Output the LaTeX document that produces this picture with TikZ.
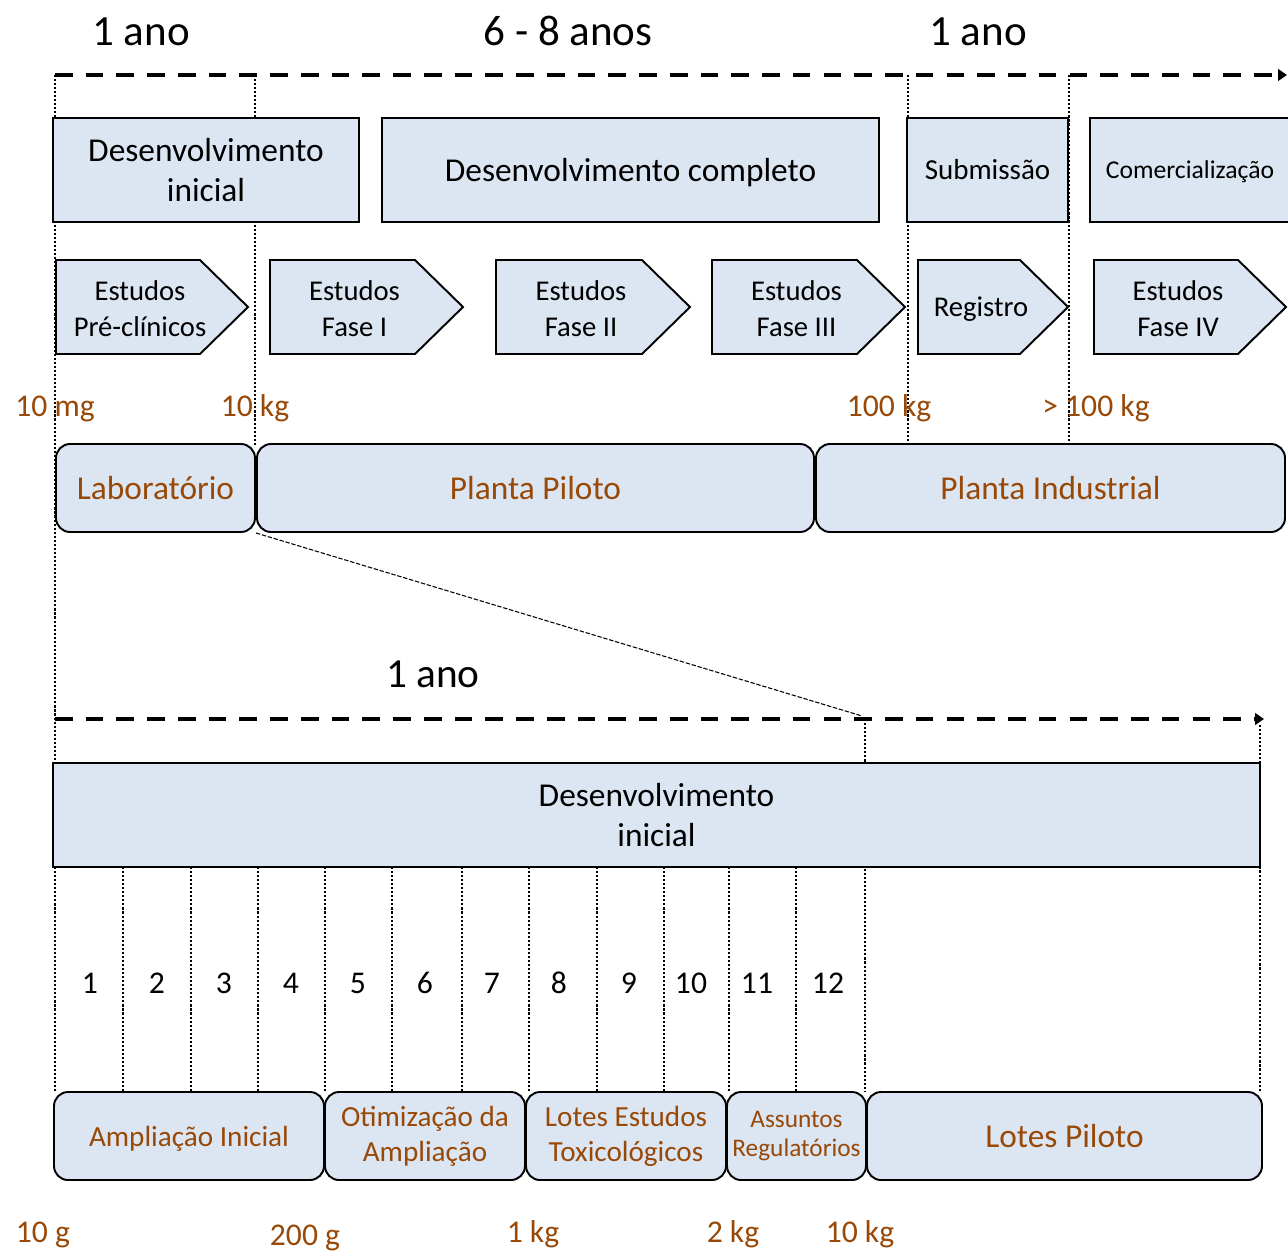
\documentclass[tikz,border=0pt]{standalone}
\usepackage{fontspec}
\setmainfont{Carlito}
\usepackage{tikz}
\usetikzlibrary{arrows.meta}
\definecolor{boxBlue}{HTML}{DCE6F2}
\definecolor{massBrown}{HTML}{984807}
\newcommand{\pxl}{0.02cm}

\begin{document}
\begin{tikzpicture}[x=\pxl, y=-\pxl,
  box/.style={draw, fill=boxBlue, line width=1.1pt, inner sep=0pt, align=center,
              minimum width=#1*\pxl, minimum height=104*\pxl, font=\fontsize{19}{23}\selectfont},
  chev/.style={draw, fill=boxBlue, line width=1.1pt},
  chevtxt/.style={inner sep=0pt, align=center, font=\fontsize{16.3}{20.5}\selectfont},
  pill/.style={draw, fill=boxBlue, rounded corners=8pt, line width=1.1pt, inner sep=0pt, align=center,
               text=massBrown, minimum width=#1*\pxl, minimum height=88*\pxl},
  mass/.style={text=massBrown, anchor=base, inner sep=0pt, font=\fontsize{18}{22}\selectfont},
  years/.style={anchor=base, inner sep=0pt, font=\fontsize{24.5}{28}\selectfont},
  guide/.style={line width=1.1pt, dash pattern=on 1.2pt off 1.1pt},
  timeline/.style={line width=2.3pt, dash pattern=on 10pt off 7.5pt, -{Triangle[length=5pt,width=6.5pt]}}]
  \useasboundingbox (0,0) rectangle (1288,1251);
  % upper timeline
  \coordinate (t0) at (55,75); \coordinate (t1) at (1287,75);
  \draw[timeline] (t0) -- (t1);
  \node[years] (y1) at (141,45) {1 ano};
  \node[years] (y2) at (568,45) {6 - 8 anos};
  \node[years] (y3) at (978,45) {1 ano};
  % dotted guides (behind boxes)
  \draw[guide] (55,75) -- (55,1092);
  \foreach \x in {255, 908, 1069} {\draw[guide] (\x,75) -- (\x,445);}
  \draw[guide] (865,719) -- (865,1092);
  \draw[guide] (1260,725) -- (1260,1092);
  \foreach \x in {123, 191, 258, 325, 392, 462, 529, 597, 664, 729, 796} {\draw[guide] (\x,867) -- (\x,1092);}
  % phases
  \node[box=306] (devI) at (206,170) {Desenvolvimento\\inicial};
  \node[box=497, text depth=0pt] (devC) at (630.5,170) {Desenvolvimento completo};
  \node[box=161, font=\fontsize{16.5}{20}\selectfont] (sub) at (987.5,170) {Submissão};
  \node[box=200, text depth=0pt, font=\fontsize{14.6}{18}\selectfont] (com) at (1190,170) {Comercialização};
  % studies
  \foreach \x/\w/\n/\t in {56/192/pre/{Estudos\\Pré-clínicos}, 270/193/fI/{Estudos\\Fase I},
                           496/194/fII/{Estudos\\Fase II}, 712/193/fIII/{Estudos\\Fase III},
                           918/150/reg/Registro, 1094/192/fIV/{Estudos\\Fase IV}}{
    \draw[chev] (\x,260) -- ++(\w-48,0) -- ++(48,47) -- ++(-48,47) -- ++(48-\w,0) -- cycle;
    \node[chevtxt] (\n) at (\x+\w/2-12,309) {\t};}
  % scale labels
  \foreach \x/\n/\t in {55/mA/10 mg, 255/mB/10 kg, 889/mC/100 kg, 1096/mD/> 100 kg}{
    \node[mass] (\n) at (\x,416) {\t};}
  % plants
  \node[pill=199, font=\fontsize{19}{23}\selectfont] (lab) at (155.5,488) {Laboratório};
  \node[pill=557, font=\fontsize{19}{23}\selectfont] (pp) at (535.5,488) {Planta Piloto};
  \node[pill=469, font=\fontsize{19}{23}\selectfont] (pi) at (1050.5,488) {Planta Industrial};
  % zoom into the first year
  \coordinate (zt) at (862,716);
  \draw[line width=0.6pt, dash pattern=on 2.5pt off 1pt] (lab.south east) -- (zt);
  \node[years, font=\fontsize{23.5}{27}\selectfont] (y4) at (433,687) {1 ano};
  \coordinate (b0) at (55,719); \coordinate (b1) at (1264,719);
  \draw[timeline] (b0) -- (b1);
  \node[box=1207] (devB) at (656.5,815) {Desenvolvimento\\inicial};
  % steps
  \foreach \i/\x in {1/90, 2/157, 3/224, 4/291, 5/358, 6/425, 7/492, 8/559, 9/629, 10/691, 11/757, 12/828}{
    \node[anchor=base, inner sep=0pt, font=\fontsize{18}{22}\selectfont] (s\i) at (\x,993) {\i};}
  \node[pill=270, text depth=0pt, font=\fontsize{16.6}{20}\selectfont] (amp) at (189,1136) {Ampliação Inicial};
  \node[pill=200, font=\fontsize{16.6}{20}\selectfont] (oti) at (425,1136) {Otimização da\\Ampliação};
  \node[pill=200, font=\fontsize{16.6}{20}\selectfont] (tox) at (626,1136) {Lotes Estudos\\Toxicológicos};
  \node[pill=139, font=\fontsize{14.4}{17}\selectfont] (reg2) at (796.5,1136) {Assuntos\\Regulatórios};
  \node[pill=395, font=\fontsize{19}{23}\selectfont] (lp) at (1064.5,1136) {Lotes Piloto};
  \foreach \x/\y/\n/\t in {43/1242/mE/10 g, 305/1245/mF/200 g, 533/1242/mG/1 kg, 733/1242/mH/2 kg, 860/1242/mI/10 kg}{
    \node[mass] (\n) at (\x,\y) {\t};}
\end{tikzpicture}
\end{document}
